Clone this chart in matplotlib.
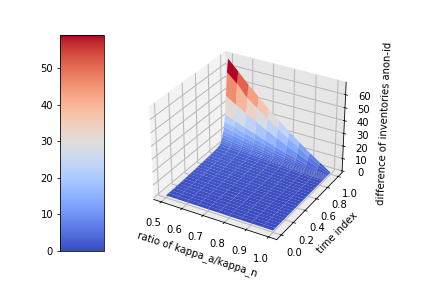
import numpy as np
import matplotlib
matplotlib.use("Agg")
import matplotlib.pyplot as plt
from matplotlib import cm

ratios = [0.5, 0.55, 0.6, 0.65, 0.7, 0.75, 0.8, 0.85, 0.9, 0.95, 1.0]
times = [0.0, 0.04, 0.08, 0.12, 0.16, 0.2, 0.24, 0.28, 0.32, 0.36, 0.4, 0.44, 0.48,
         0.52, 0.56, 0.6, 0.64, 0.68, 0.72, 0.76, 0.8, 0.84, 0.86, 0.87, 0.88, 0.89,
         0.9, 0.91, 0.92, 0.93, 0.94, 0.96, 0.98, 1.0]
diff = [
    [0.4, 0.35, 0.3, 0.26, 0.22, 0.18, 0.14, 0.1, 0.06, 0.03, 0],
    [0.5, 0.44, 0.38, 0.32, 0.27, 0.22, 0.17, 0.12, 0.08, 0.04, 0],
    [0.6, 0.53, 0.46, 0.39, 0.32, 0.26, 0.2, 0.15, 0.1, 0.05, 0],
    [0.7, 0.62, 0.53, 0.45, 0.38, 0.31, 0.24, 0.17, 0.11, 0.06, 0],
    [0.8, 0.7, 0.61, 0.52, 0.43, 0.35, 0.27, 0.2, 0.13, 0.06, 0],
    [0.9, 0.79, 0.68, 0.58, 0.49, 0.4, 0.31, 0.22, 0.14, 0.07, 0],
    [1.0, 0.88, 0.76, 0.65, 0.54, 0.44, 0.34, 0.25, 0.16, 0.08, 0],
    [1.1, 0.97, 0.84, 0.72, 0.59, 0.48, 0.37, 0.27, 0.18, 0.09, 0],
    [1.3, 1.14, 0.99, 0.85, 0.7, 0.57, 0.44, 0.33, 0.21, 0.1, 0],
    [1.4, 1.23, 1.06, 0.91, 0.76, 0.62, 0.48, 0.35, 0.22, 0.11, 0],
    [1.6, 1.41, 1.22, 1.04, 0.86, 0.7, 0.54, 0.4, 0.26, 0.13, 0],
    [1.7, 1.5, 1.29, 1.1, 0.92, 0.75, 0.58, 0.42, 0.27, 0.14, 0],
    [1.9, 1.67, 1.44, 1.24, 1.03, 0.84, 0.65, 0.48, 0.3, 0.15, 0],
    [2.1, 1.85, 1.6, 1.37, 1.13, 0.92, 0.71, 0.53, 0.34, 0.17, 0],
    [2.3, 2.02, 1.75, 1.5, 1.24, 1.01, 0.78, 0.58, 0.37, 0.18, 0],
    [2.5, 2.2, 1.9, 1.63, 1.35, 1.1, 0.85, 0.63, 0.4, 0.2, 0],
    [2.7, 2.38, 2.05, 1.76, 1.46, 1.19, 0.92, 0.68, 0.43, 0.22, 0],
    [2.9, 2.55, 2.2, 1.89, 1.57, 1.28, 0.99, 0.73, 0.46, 0.23, 0],
    [3.1, 2.73, 2.36, 2.02, 1.67, 1.36, 1.05, 0.78, 0.5, 0.25, 0],
    [3.4, 2.99, 2.58, 2.21, 1.84, 1.5, 1.16, 0.85, 0.54, 0.27, 0],
    [3.7, 3.26, 2.81, 2.41, 2.0, 1.63, 1.26, 0.93, 0.59, 0.3, 0],
    [4.4, 3.87, 3.34, 2.86, 2.38, 1.94, 1.5, 1.1, 0.7, 0.35, 0],
    [5.5, 4.84, 4.18, 3.58, 2.97, 2.42, 1.87, 1.38, 0.88, 0.44, 0],
    [6.5, 5.72, 4.94, 4.23, 3.51, 2.86, 2.21, 1.63, 1.04, 0.52, 0],
    [7.5, 6.6, 5.7, 4.88, 4.05, 3.3, 2.55, 1.88, 1.2, 0.6, 0],
    [9.0, 7.92, 6.84, 5.85, 4.86, 3.96, 3.06, 2.25, 1.44, 0.72, 0],
    [11.0, 9.68, 8.36, 7.15, 5.94, 4.84, 3.74, 2.75, 1.76, 0.88, 0],
    [13.5, 11.9, 10.3, 8.8, 7.3, 5.9, 4.6, 3.4, 2.2, 1.1, 0],
    [16.5, 14.5, 12.5, 10.7, 8.9, 7.3, 5.6, 4.1, 2.6, 1.3, 0],
    [20.5, 18.0, 15.6, 13.3, 11.1, 9.0, 7.0, 5.1, 3.3, 1.6, 0],
    [26.0, 22.9, 19.8, 16.9, 14.0, 11.4, 8.8, 6.5, 4.2, 2.1, 0],
    [40.0, 35.2, 30.4, 26.0, 21.6, 17.6, 13.6, 10.0, 6.4, 3.2, 0],
    [58.0, 51.0, 42.0, 35.8, 29.7, 24.2, 18.7, 13.8, 8.8, 4.4, 0],
    [68.0, 60.0, 51.7, 44.2, 36.7, 29.9, 23.1, 17.0, 10.9, 5.4, 0],
]
x_ticks = [0.5, 0.6, 0.7, 0.8, 0.9, 1.0]
y_ticks = [0.0, 0.2, 0.4, 0.6, 0.8, 1.0]
z_ticks = [0, 10, 20, 30, 40, 50, 60]
color_min = 0
color_max = 59

X, Y = np.meshgrid(ratios, times)
Z = np.array(diff)

fig = plt.figure(figsize=(6, 4), dpi=72)
ax = fig.add_axes([0.276, 0.12, 0.59, 0.76], projection="3d")
surf = ax.plot_surface(X, Y, Z, cmap=cm.coolwarm, linewidth=0, antialiased=True,
                       rcount=50, ccount=50, vmin=color_min, vmax=color_max,
                       shade=False)
ax.set_xlabel("ratio of kappa_a/kappa_n")
ax.set_ylabel("time index")
ax.set_zlabel("difference of inventories anon-id")
ax.set_xticks(x_ticks)
ax.set_yticks(y_ticks)
ax.set_zticks(z_ticks)
ax.xaxis.set_pane_color((0.95, 0.95, 0.95, 1.0))
ax.yaxis.set_pane_color((0.90, 0.90, 0.90, 1.0))
ax.zaxis.set_pane_color((0.925, 0.925, 0.925, 1.0))
for axis in (ax.xaxis, ax.yaxis, ax.zaxis):
    axis._axinfo["grid"]["linewidth"] = 1.0
    axis._axinfo["grid"]["color"] = (0.72, 0.72, 0.72, 1.0)

cax = fig.add_axes([60 / 432, 1 - 251 / 288, 44 / 432, 216 / 288])
fig.colorbar(surf, cax=cax)
cax.yaxis.set_ticks_position("left")
fig.savefig("out.png", dpi=72)
